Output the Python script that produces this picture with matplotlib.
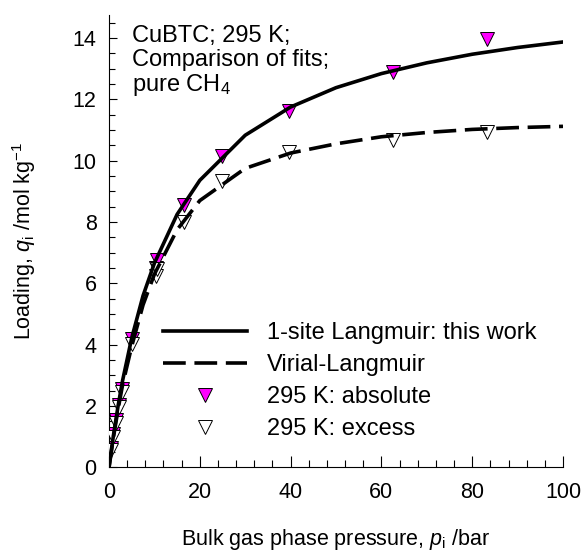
import matplotlib
matplotlib.use('Agg')
import matplotlib.pyplot as plt
from matplotlib.ticker import MultipleLocator

# Fitted isotherms (1-site Langmuir and Virial-Langmuir), CH4 in CuBTC at 295 K
p_fit = [0, 0.5, 1, 2, 3, 5, 7.5, 10, 15, 20, 30, 40, 50, 60, 70, 80, 90, 100]
q_langmuir = [0, 0.55, 1.07, 2.01, 2.84, 4.22, 5.6, 6.66, 8.25, 9.36, 10.83,
              11.75, 12.38, 12.84, 13.19, 13.47, 13.69, 13.87]
q_virial = [0, 0.5, 1.0, 1.9, 2.7, 3.95, 5.3, 6.3, 7.75, 8.7, 9.75,
            10.25, 10.55, 10.78, 10.92, 11.02, 11.08, 11.12]

# Experimental data, 295 K
p_exp = [0.45, 0.8, 1.5, 2.3, 2.8, 5.1, 10.3, 10.5, 16.5, 24.8, 39.7, 62.6, 83.2]
q_abs = [0.64, 1.08, 1.55, 2.05, 2.55, 4.19, 6.5, 6.77, 8.55, 10.14, 11.62, 12.88, 13.97]
q_exc = [0.56, 1.0, 1.46, 1.96, 2.47, 4.01, 6.23, 6.48, 8.01, 9.34, 10.28, 10.68, 10.94]

plt.rcParams['font.family'] = ['Liberation Sans', 'DejaVu Sans']
plt.rcParams['mathtext.fontset'] = 'custom'
plt.rcParams['mathtext.rm'] = 'Liberation Sans'
plt.rcParams['mathtext.it'] = 'Liberation Sans:italic'
plt.rcParams['font.size'] = 15.5

big = 17

fig = plt.figure(figsize=(5.87, 5.59), dpi=100)
ax = fig.add_axes([0.1857, 0.1637, 0.7734, 0.8095])

ax.plot(p_exp, q_abs, 'v', color='#FF00FF', markersize=10.5,
        markeredgecolor='black', markeredgewidth=0.7, label='295 K: absolute', zorder=2)
ax.plot(p_exp, q_exc, 'v', color='white', markersize=10.5,
        markeredgecolor='black', markeredgewidth=0.7, label='295 K: excess', zorder=3)
ax.plot(p_fit, q_langmuir, '-', color='black', linewidth=2.6,
        label='1-site Langmuir: this work', zorder=4)
ax.plot(p_fit, q_virial, '--', color='black', linewidth=2.6, dashes=(6.3, 2.4),
        label='Virial-Langmuir', zorder=4)

ax.set_xlim(0, 100)
ax.set_ylim(0, 14.75)
ax.xaxis.set_major_locator(MultipleLocator(20))
ax.xaxis.set_minor_locator(MultipleLocator(4))
ax.yaxis.set_major_locator(MultipleLocator(2))
ax.yaxis.set_minor_locator(MultipleLocator(0.5))

for s in ['top', 'right']:
    ax.spines[s].set_visible(False)
for s in ['left', 'bottom']:
    ax.spines[s].set_linewidth(0.8)

ax.tick_params(axis='x', which='major', direction='in', length=8, width=0.8, pad=10.5)
ax.tick_params(axis='x', which='minor', direction='in', length=5, width=0.8)
ax.tick_params(axis='y', which='major', direction='in', length=6, width=0.8, pad=9)
ax.tick_params(axis='y', which='minor', direction='in', length=4, width=0.8)

ax.set_xlabel(r'Bulk gas phase pressure, $p_\mathrm{i}$ /bar', va='top')
ax.set_ylabel(r'Loading, $q_\mathrm{i}$ /mol kg$^{-1}$')
ax.xaxis.set_label_coords(0.5, -0.132)
ax.yaxis.set_label_coords(-0.157, 0.5)

ax.text(0.05, 0.977, 'CuBTC; 295 K;\nComparison of fits;\npure CH$_4$',
        transform=ax.transAxes, ha='left', va='top', linespacing=1.07, fontsize=big)

handles, labels = ax.get_legend_handles_labels()
order = [2, 3, 0, 1]
ax.legend([handles[i] for i in order], [labels[i] for i in order],
          loc='center left', bbox_to_anchor=(0.119, 0.191), frameon=False,
          borderpad=0, borderaxespad=0, handlelength=3.56, handletextpad=0.85,
          labelspacing=0.42, numpoints=1, fontsize=big)

fig.savefig('out.png', dpi=100)
